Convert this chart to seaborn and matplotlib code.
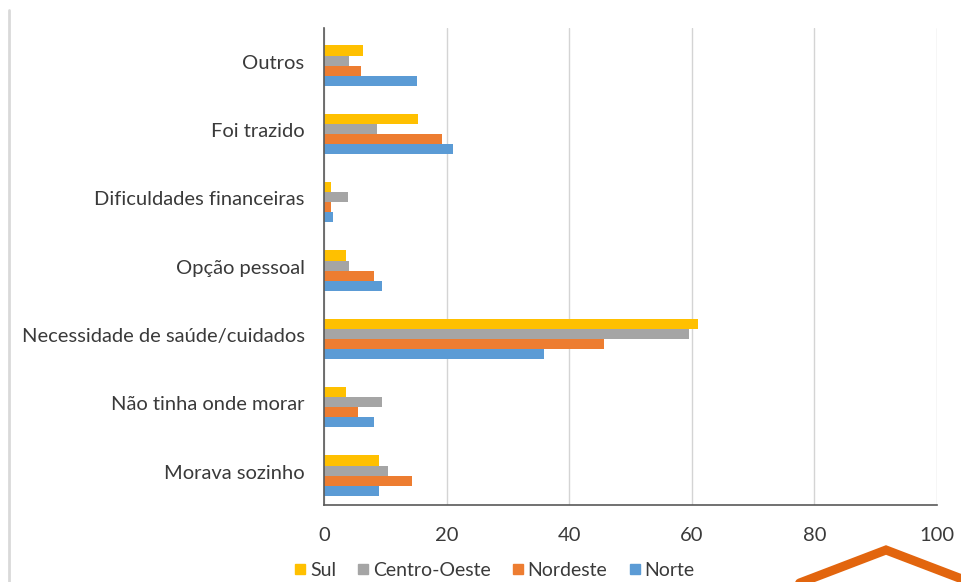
import matplotlib
matplotlib.use("Agg")
import matplotlib.pyplot as plt
import matplotlib.transforms as mtransforms
import seaborn as sns
import pandas as pd
from matplotlib.lines import Line2D

categories = ["Outros", "Foi trazido", "Dificuldades financeiras", "Opção pessoal",
              "Necessidade de saúde/cuidados", "Não tinha onde morar", "Morava sozinho"]
series = ["Sul", "Centro-Oeste", "Nordeste", "Norte"]
sul = [6.4, 15.4, 1.2, 3.6, 61.0, 3.6, 9.0]
centro_oeste = [4.1, 8.7, 3.9, 4.1, 59.6, 9.4, 10.5]
nordeste = [6.1, 19.2, 1.1, 8.2, 45.6, 5.5, 14.4]
norte = [15.1, 21.1, 1.4, 9.4, 35.9, 8.2, 9.0]
colors = ["#FFC000", "#A5A5A5", "#ED7D31", "#5B9BD5"]
xticks = [0, 20, 40, 60, 80, 100]

rows = []
for name, vals in zip(series, [sul, centro_oeste, nordeste, norte]):
    for c, v in zip(categories, vals):
        rows.append({"Motivo": c, "Região": name, "Valor": v})
df = pd.DataFrame(rows)

sns.set_theme(style="white")
plt.rcParams["font.family"] = ["Lato", "DejaVu Sans"]

fig = plt.figure(figsize=(9.62, 5.82), dpi=100)
ax = fig.add_axes([324/962, 1-505/582, (937-324)/962, (505-28)/582])

sns.barplot(data=df, y="Motivo", x="Valor", hue="Região", order=categories,
            hue_order=series, palette=colors, orient="h", errorbar=None,
            width=0.59, saturation=1, linewidth=0, ax=ax, legend=False)

ax.set_xlim(0, 100)
ax.set_xticks(xticks)
ax.set_xticklabels([str(t) for t in xticks])
ax.set_ylim(6.43, -0.55)
ax.set_xlabel("")
ax.set_ylabel("")
ax.grid(axis="x", color="#D4D4D4", linewidth=1)
ax.grid(axis="y", visible=False)
ax.set_axisbelow(True)
for s in ["top", "right"]:
    ax.spines[s].set_visible(False)
for s in ["left", "bottom"]:
    ax.spines[s].set_color("#595959")
    ax.spines[s].set_linewidth(1.2)
ax.tick_params(axis="y", length=0, pad=14, labelsize=14.5, labelcolor="#3a3a3a")
ax.tick_params(axis="x", length=0, pad=16, labelsize=14.5, labelcolor="#3a3a3a")

# category labels sit a little above the centre of their bar groups
shift = mtransforms.ScaledTranslation(0, 4/100, fig.dpi_scale_trans)
for lbl in ax.get_yticklabels():
    lbl.set_transform(lbl.get_transform() + shift)

handles = [Line2D([0], [0], marker="s", linestyle="", markersize=7,
                  markerfacecolor=c, markeredgecolor=c) for c in colors]
fig.legend(handles, series, loc="center", bbox_to_anchor=(0.513, 1-570/582),
           ncol=4, frameon=False, fontsize=14, handletextpad=0.1,
           columnspacing=1.0, handlelength=0.8, labelcolor="#3a3a3a")

# left frame line of the scanned picture
fig.add_artist(Line2D([9/962, 9/962], [0, 1-10/582], transform=fig.transFigure,
                      color="#D9D9D9", linewidth=2))
# orange chevron decoration in bottom-right corner
fig.add_artist(Line2D([797/962, 886/962, 975/962], [1-584/582, 1-550/582, 1-584/582],
                      transform=fig.transFigure, color="#E2650E", linewidth=6.5,
                      solid_joinstyle="miter", clip_on=False))

fig.savefig("out.png", dpi=100)
